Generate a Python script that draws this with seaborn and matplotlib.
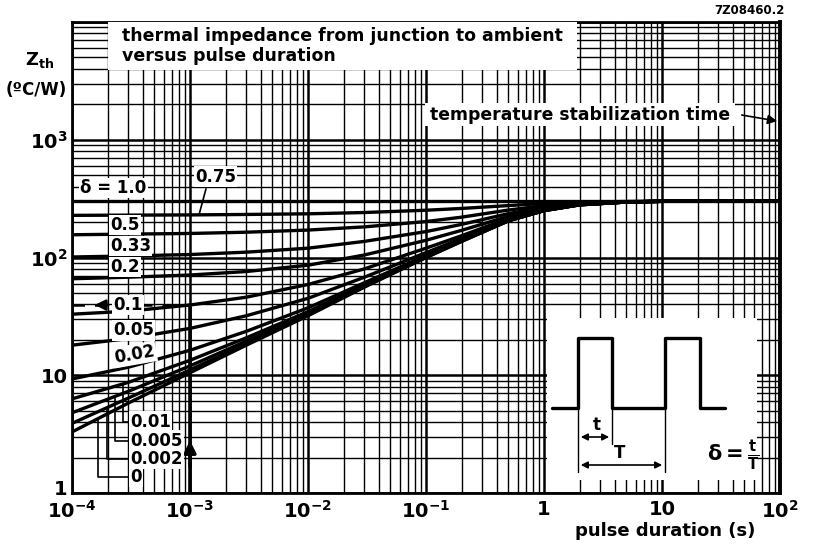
import numpy as np
import pandas as pd
import seaborn as sns
import matplotlib.pyplot as plt
import matplotlib.transforms as mtransforms
from matplotlib.patches import Rectangle
from matplotlib.ticker import LogLocator, NullFormatter

sns.set_style('white')
plt.rcParams['font.family'] = ['DejaVu Sans']
plt.rcParams['font.weight'] = 'bold'
plt.rcParams['mathtext.default'] = 'bf'
plt.rcParams['text.color'] = 'black'
plt.rcParams['xtick.color'] = 'black'
plt.rcParams['ytick.color'] = 'black'

pulse_t = [1e-4, 3e-4, 1e-3, 3e-3, 1e-2, 3e-2, 0.1, 0.2, 0.5, 1, 2, 5, 10, 100]

# Zth (degC/W) for each duty factor delta
z_100 = [300, 300, 300, 300, 300, 300, 300, 300, 300, 300, 300, 300, 300, 300]
z_075 = [228, 229, 230, 232, 235, 241, 252, 261, 276, 288, 295, 299, 300, 300]
z_050 = [156, 158, 160, 164, 171, 182, 202, 220, 253, 275, 290, 298, 300, 300]
z_033 = [101, 103, 106, 111, 120, 137, 166, 191, 236, 267, 287, 297, 300, 300]
z_020 = [66, 68, 71, 76, 86, 105, 140, 170, 224, 260, 284, 297, 300, 300]
z_010 = [33, 35, 39.5, 46, 59, 80, 120, 153, 215, 255, 282, 296, 300, 300]
z_005 = [18, 20.5, 25, 32, 45, 68, 110, 145, 210, 253, 281, 296, 300, 300]
z_002 = [9.3, 11.7, 16.3, 23.6, 37.4, 61, 104, 140, 207, 251, 281, 296, 300, 300]
z_001 = [6.3, 8.7, 13.4, 20.8, 34.7, 58.4, 102, 139, 206, 251, 280, 296, 300, 300]
z_0005 = [4.8, 7.3, 12, 19.5, 33.4, 57, 101, 138, 205, 250, 280, 296, 300, 300]
z_0002 = [3.9, 6.4, 11.1, 18.6, 32.6, 56.5, 100, 137, 205, 250, 280, 296, 300, 300]
z_0 = [3.3, 5.8, 10.5, 18, 32, 56, 100, 137, 205, 250, 280, 296, 300, 300]

deltas = [1.0, 0.75, 0.5, 0.33, 0.2, 0.1, 0.05, 0.02, 0.01, 0.005, 0.002, 0]
curves = [z_100, z_075, z_050, z_033, z_020, z_010, z_005, z_002, z_001, z_0005, z_0002, z_0]

x_ticks = [1e-4, 1e-3, 1e-2, 1e-1, 1, 10, 100]
x_ticklabels = ['$10^{-4}$', '$10^{-3}$', '$10^{-2}$', '$10^{-1}$', '1', '10', '$10^{2}$']
y_ticks = [1, 10, 100, 1000, 10000]
y_ticklabels = ['1', '10', '$10^{2}$', '$10^{3}$', '']

rows = []
for d, z in zip(deltas, curves):
    for t, v in zip(pulse_t, z):
        rows.append((d, t, v))
df = pd.DataFrame(rows, columns=['delta', 't', 'zth'])

W, H = 813, 547
fig = plt.figure(figsize=(W / 100, H / 100), dpi=100)
ax = fig.add_axes([72 / W, 1 - 493 / H, (780 - 72) / W, (493 - 22) / H])


def fx(px):
    return px / W


def fy(py):
    return 1 - py / H


def dx(px):
    return 10 ** (-4 + (px - 72) / 118)


def dy(py):
    return 10 ** ((493 - py) / 117.3)


def on_curve(z, t):
    return np.exp(np.interp(np.log(t), np.log(pulse_t), np.log(z)))


sns.lineplot(data=df, x='t', y='zth', units='delta', estimator=None,
             color='black', lw=2.4, ax=ax, zorder=3)
ax.set_xscale('log')
ax.set_yscale('log')
ax.set_xlim(1e-4, 1e2)
ax.set_ylim(1, 1e4)
for axis in (ax.xaxis, ax.yaxis):
    axis.set_minor_locator(LogLocator(base=10, subs=np.arange(2, 10), numticks=60))
    axis.set_minor_formatter(NullFormatter())
ax.set_xticks(x_ticks, x_ticklabels)
ax.set_yticks(y_ticks, y_ticklabels)
ax.set_axisbelow(True)
ax.grid(True, which='major', color='black', lw=1.8)
ax.grid(True, which='minor', color='black', lw=1.0)
ax.tick_params(which='both', length=0)
ax.tick_params(axis='x', labelsize=14, pad=5)
ax.tick_params(axis='y', labelsize=14, pad=3)
ax.set_xlabel('')
ax.set_ylabel('')
for s in ax.spines.values():
    s.set_linewidth(2)
    s.set_color('black')
ax.spines['right'].set_linewidth(2.8)
# lift the bottom "1" a little so it clears the 10^-4 label
lbl1 = ax.get_yticklabels()[0]
lbl1.set_transform(lbl1.get_transform() + mtransforms.ScaledTranslation(0, 4 / 72, fig.dpi_scale_trans))

# white boxes behind the header texts
ax.add_patch(Rectangle((fx(108), fy(70)), fx(577) - fx(108), fy(22) - fy(70),
                       transform=fig.transFigure, fc='white', ec='none', zorder=4, clip_on=False))
ax.add_patch(Rectangle((fx(425), fy(126)), fx(735) - fx(425), fy(103) - fy(126),
                       transform=fig.transFigure, fc='white', ec='none', zorder=4, clip_on=False))
fig.text(fx(122), fy(46), 'thermal impedance from junction to ambient\nversus pulse duration',
         ha='left', va='center', fontsize=12.5, linespacing=1.1, zorder=6)
fig.text(fx(430), fy(115), 'temperature stabilization time', ha='left', va='center',
         fontsize=12.4, zorder=6)
ax.annotate('', xy=(100, dy(123)), xytext=(dx(739), dy(116)),
            arrowprops=dict(arrowstyle='-|>', color='black', lw=1.2, mutation_scale=14), zorder=6)

# duty factor labels
lab = dict(ha='left', va='center', fontsize=12, zorder=6,
           bbox=dict(fc='white', ec='none', pad=1))
ax.text(dx(80), dy(189), 'δ = 1.0', **lab)
ax.text(dx(195), dy(178), '0.75', **lab)
ax.plot([dx(206), dx(199)], [dy(190), on_curve(z_075, dx(199))], color='black', lw=1.2, zorder=5)
ax.text(dx(110), dy(226), '0.5', **lab)
ax.text(dx(110), dy(247), '0.33', **lab)
ax.text(dx(110), dy(268), '0.2', **lab)
ax.text(dx(113), dy(331), '0.05', **lab)
ax.text(dx(113), dy(355), '0.02', rotation=10, **lab)

# reading example at 1 ms for delta = 0.1
v01 = on_curve(z_010, 1e-3)
ax.plot([1e-4, 1e-3], [v01, v01], color='black', lw=1.8, ls=(0, (5, 4)), zorder=4)
ax.plot([1e-3, 1e-3], [1, v01], color='black', lw=2.6, zorder=4)
ax.annotate('', xy=(dx(92), v01), xytext=(dx(111), v01),
            arrowprops=dict(arrowstyle='-|>', color='black', lw=1.8, mutation_scale=16), zorder=6)
ax.annotate('', xy=(1e-3, dy(438)), xytext=(1e-3, dy(470)),
            arrowprops=dict(arrowstyle='-|>', color='black', lw=2.4, mutation_scale=18), zorder=6)
ax.text(dx(113), v01, '0.1', **lab)

# small duty factors with leader lines
small = [('0.01', 422, 123, z_001), ('0.005', 441, 115, z_0005),
         ('0.002', 459, 107, z_0002), ('0', 477, 98, z_0)]
for text, py, vx, z in small:
    ax.text(dx(130), dy(py), text, **lab)
    ax.plot([dx(130), dx(vx), dx(vx)], [dy(py), dy(py), on_curve(z, dx(vx))],
            color='black', lw=1.2, zorder=5)

# axis titles
fig.text(fx(40), fy(60), 'Z$_{th}$', ha='center', va='center', fontsize=13)
fig.text(fx(36), fy(90), '(ºC/W)', ha='center', va='center', fontsize=12)
fig.text(fx(665), fy(531), 'pulse duration (s)', ha='center', va='center', fontsize=13)
fig.text(fx(785), fy(11), '7Z08460.2', ha='right', va='center', fontsize=8.5)

# pulse diagram inset
ins = fig.add_axes([fx(547), fy(480), fx(757) - fx(547), fy(318) - fy(480)])
ins.set_facecolor('white')
ins.set_xlim(547, 757)
ins.set_ylim(480, 318)
ins.axis('off')
ins.add_patch(Rectangle((547, 318), 210, 162, fc='white', ec='none', zorder=0))
ins.plot([552, 578, 578, 612, 612, 665, 665, 700, 700, 725],
         [408, 408, 338, 338, 408, 408, 338, 338, 408, 408], color='black', lw=2.4)
ins.plot([578, 578], [408, 472], color='black', lw=1.0)
ins.plot([612, 612], [408, 444], color='black', lw=1.0)
ins.plot([665, 665], [408, 472], color='black', lw=1.0)
ins.annotate('', xy=(578, 437), xytext=(612, 437),
             arrowprops=dict(arrowstyle='<|-|>', color='black', lw=1.2, mutation_scale=10))
ins.annotate('', xy=(578, 465), xytext=(665, 465),
             arrowprops=dict(arrowstyle='<|-|>', color='black', lw=1.2, mutation_scale=10))
ins.text(597, 425, 't', ha='center', va='center', fontsize=12)
ins.text(620, 453, 'T', ha='center', va='center', fontsize=12)
ins.text(733, 456, r'$\delta=\frac{t}{T}$', ha='center', va='center', fontsize=15)

fig.savefig('out.png', dpi=100)
